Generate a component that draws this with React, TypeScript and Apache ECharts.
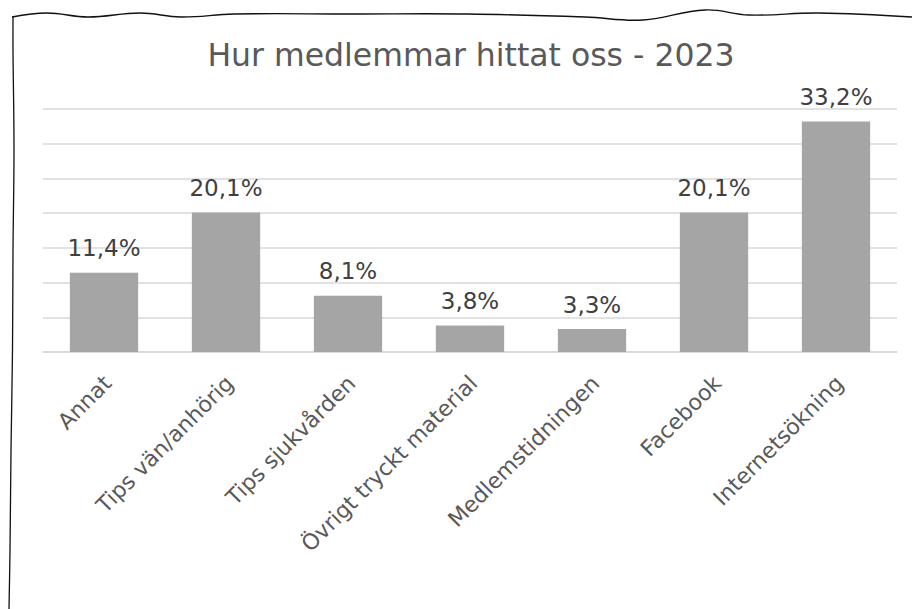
import React, { useEffect, useRef } from "react";
import * as echarts from "echarts";

const categories = [
  "Annat",
  "Tips vän/anhörig",
  "Tips sjukvården",
  "Övrigt tryckt material",
  "Medlemstidningen",
  "Facebook",
  "Internetsökning",
];
const values = [11.4, 20.1, 8.1, 3.8, 3.3, 20.1, 33.2];
const titleText = "Hur medlemmar hittat oss - 2023";

const topBorder: number[][] = [
  [12, 17], [47, 13], [88, 17], [140, 13], [181, 17], [234, 14], [351, 14],
  [468, 14], [585, 17], [643, 20], [705, 10], [749, 15], [819, 13], [912, 17],
];
const leftBorder: number[][] = [
  [13, 17], [13, 50], [14, 150], [13, 250], [12.5, 350], [11, 450], [10, 550], [9, 609],
];

export default function App() {
  const ref = useRef<HTMLDivElement>(null);
  useEffect(() => {
    if (!ref.current) return;
    const chart = echarts.init(ref.current, null, { renderer: "svg" });
    chart.setOption({
      animation: false,
      backgroundColor: "#ffffff",
      title: {
        text: titleText,
        left: 466,
        textAlign: "center",
        top: 34,
        textStyle: {
          fontFamily: "DejaVu Sans",
          fontSize: 31.5,
          fontWeight: "normal",
          color: "#595959",
        },
      },
      grid: { left: 43, right: 15, top: 109, bottom: 257, containLabel: false },
      xAxis: {
        type: "category",
        data: categories,
        axisLine: { show: true, lineStyle: { color: "#D9D9D9", width: 1.5 } },
        axisTick: { show: false },
        axisLabel: {
          interval: 0,
          rotate: 45,
          margin: 31,
          padding: [0, -5, 0, 0],
          fontFamily: "DejaVu Sans",
          fontSize: 22,
          color: "#595959",
        },
      },
      yAxis: {
        type: "value",
        min: 0,
        max: 35,
        interval: 5,
        axisLabel: { show: false },
        axisLine: { show: false },
        axisTick: { show: false },
        splitLine: { show: true, lineStyle: { color: "#D9D9D9", width: 1.5 } },
      },
      series: [
        {
          type: "bar",
          data: values,
          barCategoryGap: "44%",
          itemStyle: { color: "#A5A5A5" },
          label: {
            show: true,
            position: "top",
            distance: 13,
            fontFamily: "DejaVu Sans",
            fontSize: 23,
            color: "#404040",
            formatter: (p: any) => p.value.toFixed(1).replace(".", ",") + "%",
          },
        },
      ],
      graphic: [
        {
          type: "polyline",
          shape: { points: topBorder, smooth: 0.4 },
          style: { stroke: "#111111", lineWidth: 1.3, fill: "none" },
          silent: true,
        },
        {
          type: "polyline",
          shape: { points: leftBorder, smooth: 0.4 },
          style: { stroke: "#111111", lineWidth: 1.3, fill: "none" },
          silent: true,
        },
      ],
    });
    return () => chart.dispose();
  }, []);
  return <div ref={ref} style={{ width: 912, height: 609, position: "absolute", left: 0, top: 0 }} />;
}
